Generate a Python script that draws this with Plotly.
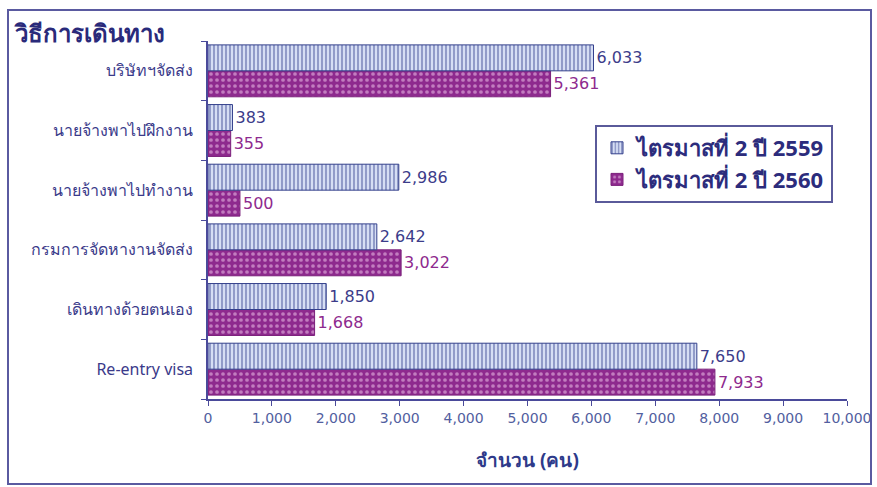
import plotly.graph_objects as go

categories = ["บริษัทฯจัดส่ง", "นายจ้างพาไปฝึกงาน", "นายจ้างพาไปทำงาน",
              "กรมการจัดหางานจัดส่ง", "เดินทางด้วยตนเอง", "Re-entry visa"]
values_2559 = [6033, 383, 2986, 2642, 1850, 7650]
values_2560 = [5361, 355, 500, 3022, 1668, 7933]
series_names = ["ไตรมาสที่ 2 ปี 2559", "ไตรมาสที่ 2 ปี 2560"]
x_ticks = list(range(0, 10001, 1000))

cats_bottom_up = categories[::-1]
v59 = values_2559[::-1]
v60 = values_2560[::-1]

FONT = "Noto Sans, DejaVu Sans, sans-serif"
NUMFONT = "DejaVu Sans, sans-serif"
BLUE_D = "#34408c"
PURP = "#8e2a8e"

fig = go.Figure()
fig.add_trace(go.Bar(
    y=cats_bottom_up, x=v60, orientation="h", name=series_names[1], legendrank=2,
    marker=dict(color=PURP, line=dict(color="#7a1f7a", width=1),
                pattern=dict(shape=".", bgcolor=PURP, fgcolor="#f6d0f0", size=6, solidity=0.3,
                             fillmode="overlay")),
    texttemplate="%{x:,}", textposition="outside", cliponaxis=False,
    textfont=dict(color=PURP, size=16, family=NUMFONT),
))
fig.add_trace(go.Bar(
    y=cats_bottom_up, x=v59, orientation="h", name=series_names[0], legendrank=1,
    marker=dict(color="#d6def4", line=dict(color=BLUE_D, width=1),
                pattern=dict(shape="|", bgcolor="#d6def4", fgcolor=BLUE_D, size=4, solidity=0.42,
                             fillmode="overlay")),
    texttemplate="%{x:,}", textposition="outside", cliponaxis=False,
    textfont=dict(color="#3c3c8a", size=16, family=NUMFONT),
))

L, R, T, B = 208, 30, 41, 88
W, H = 877, 487
pw, ph = W - L - R, H - T - B

def px2x(px):
    return (px - L) / pw

def py2y(py):
    return (H - B - py) / ph

fig.update_layout(
    width=W, height=H,
    margin=dict(l=L, r=R, t=T, b=B, autoexpand=False),
    barmode="group", bargap=0.13, bargroupgap=0,
    plot_bgcolor="white", paper_bgcolor="white",
    font=dict(family=FONT, color="#3a3a8a"),
    xaxis=dict(range=[0, 10000], tickvals=x_ticks, tickformat=",", showgrid=False,
               zeroline=False, showline=True, linecolor="#4a4a9a", linewidth=1.5,
               ticks="outside", ticklen=5, tickcolor="#4a4a9a", automargin=False,
               tickfont=dict(size=14, color="#5260a0", family=NUMFONT),
               title=dict(text="จำนวน (คน)", font=dict(size=19, color="#2e3a8a", family=FONT, weight="bold"),
                          standoff=29)),
    yaxis=dict(categoryorder="array", categoryarray=cats_bottom_up, showgrid=False,
               showline=True, linecolor="#4a4a9a", linewidth=1.5, ticks="outside",
               ticklen=5, tickcolor="#4a4a9a", tickson="boundaries", automargin=False,
               tickfont=dict(size=16, color="#3a3a8a", family=FONT), ticklabelstandoff=10),
    legend=dict(x=px2x(595), y=py2y(125), xanchor="left", yanchor="top",
                bordercolor="#5a5a9a", borderwidth=2, bgcolor="white",
                font=dict(size=22, color="#2c2c7c", family=FONT, weight="bold"), traceorder="normal",
                itemwidth=30, tracegroupgap=6),
    showlegend=True,
    annotations=[dict(text="วิธีการเดินทาง", xref="paper", yref="paper",
                      x=px2x(12), y=py2y(32), xanchor="left", yanchor="middle",
                      showarrow=False, font=dict(size=24, color="#2a2a7a", family=FONT, weight="bold"))],
    shapes=[dict(type="rect", xref="paper", yref="paper", x0=px2x(8), x1=px2x(871),
                 y0=py2y(484), y1=py2y(10), line=dict(color="#5a5aa0", width=2), layer="below")],
)

fig.write_html("out.html", config={"displayModeBar": False},
               post_script="document.body.style.margin='0';document.body.style.overflow='hidden';")
